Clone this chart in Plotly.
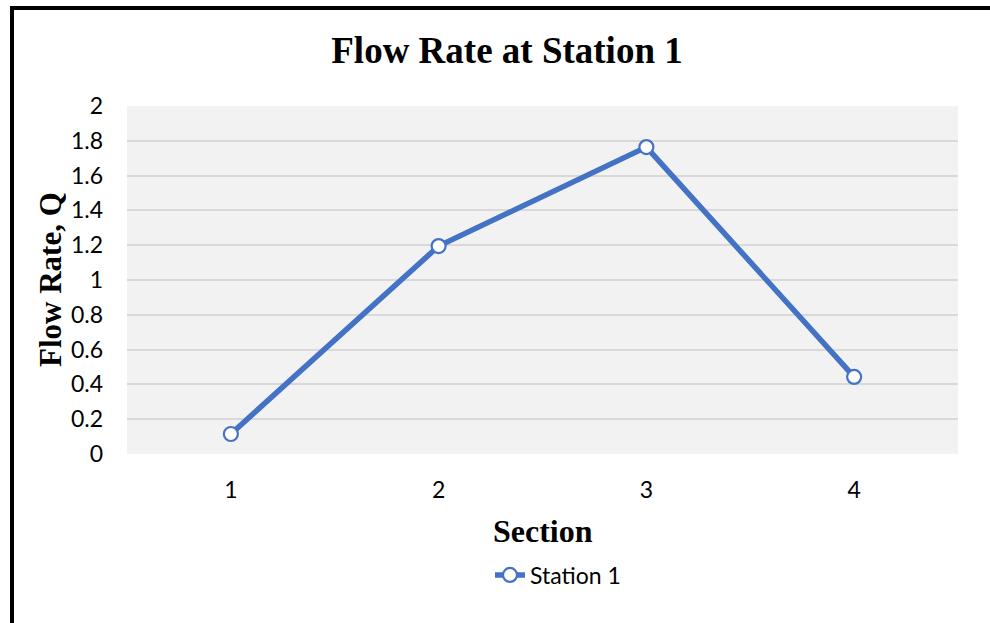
import plotly.graph_objects as go

# Flow rate measured at each section of station 1
sections = ["1", "2", "3", "4"]
flow_rate = [0.115, 1.195, 1.764, 0.443]
y_ticks = [0, 0.2, 0.4, 0.6, 0.8, 1, 1.2, 1.4, 1.6, 1.8, 2]
y_tick_text = ["0", "0.2", "0.4", "0.6", "0.8", "1", "1.2", "1.4", "1.6", "1.8", "2"]

W, H = 990, 623
L, R, T, B = 127, 32, 106, 169
pw, ph = W - L - R, H - T - B


def px_x(px):
    return (px - L) / pw


def px_y(py):
    return (H - B - py) / ph


blue = "#4472C4"
serif = "Liberation Serif, Times New Roman, serif"
sans = "Lato, Noto Sans, sans-serif"

fig = go.Figure()
fig.add_trace(go.Scatter(
    x=sections, y=flow_rate, mode="lines+markers", name="Station 1",
    line=dict(color=blue, width=5.5),
    marker=dict(symbol="circle", size=14, color="white",
                line=dict(color=blue, width=2.2)),
))

fig.update_layout(
    width=W, height=H,
    margin=dict(l=L, r=R, t=T, b=B),
    paper_bgcolor="white",
    plot_bgcolor="#f2f2f2",
    showlegend=True,
    legend=dict(orientation="h", x=px_x(558), y=px_y(575),
                xanchor="center", yanchor="middle",
                font=dict(family=sans, size=23, color="#000"),
                bgcolor="rgba(0,0,0,0)"),
    title=dict(text="<b>Flow Rate at Station 1</b>", xref="container",
               x=507 / W, xanchor="center", yref="container",
               y=1 - 50 / H, yanchor="middle",
               font=dict(family=serif, size=37, color="#000")),
    xaxis=dict(type="category", range=[-0.5, 3.5], showgrid=False,
               zeroline=False, showline=False, ticks="",
               ticklabelstandoff=20,
               tickfont=dict(family=sans, size=23, color="#000")),
    yaxis=dict(range=[0, 2], tickvals=y_ticks, ticktext=y_tick_text,
               showgrid=True, gridcolor="#d9d9d9", gridwidth=1.5,
               zeroline=False, showline=False, ticks="",
               ticklabelstandoff=23,
               tickfont=dict(family=sans, size=23, color="#000")),
    annotations=[
        dict(text="<b>Section</b>", xref="paper", yref="paper",
             x=px_x(542.5), y=px_y(531), xanchor="center", yanchor="middle",
             showarrow=False, font=dict(family=serif, size=32, color="#000")),
        dict(text="<b>Flow Rate, Q</b>", xref="paper", yref="paper",
             x=px_x(50), y=px_y(280), xanchor="center", yanchor="middle",
             textangle=-90, showarrow=False,
             font=dict(family=serif, size=31, color="#000")),
    ],
    shapes=[
        dict(type="rect", xref="paper", yref="paper",
             x0=px_x(12), x1=px_x(1010), y0=px_y(640), y1=px_y(8),
             line=dict(color="black", width=4), fillcolor="rgba(0,0,0,0)",
             layer="above"),
    ],
)

fig.write_html("out.html")
